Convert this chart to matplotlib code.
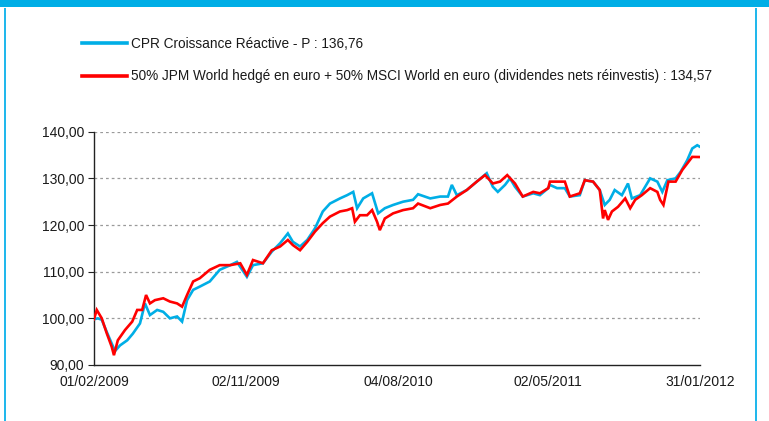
import numpy as np
import matplotlib
matplotlib.use("Agg")
import matplotlib.pyplot as plt
from matplotlib.lines import Line2D
from matplotlib.patches import Rectangle

start_date = np.datetime64("2009-02-01")

fund_label = "CPR Croissance Réactive - P : 136,76"
bench_label = "50% JPM World hedgé en euro + 50% MSCI World en euro (dividendes nets réinvestis) : 134,57"

fund_days = [0, 7, 14, 23, 32, 38, 47, 60, 70, 83, 92, 101, 114, 125, 137, 150, 159, 168, 179, 191,
             209, 227, 246, 258, 276, 287, 305, 321, 336, 350, 359, 372, 385, 399, 413, 426, 444, 457,
             468, 475, 486, 502, 513, 525, 540, 558, 576, 585, 607, 625, 639, 646, 655, 673, 691, 709,
             720, 729, 742, 751, 760, 774, 793, 805, 820, 823, 836, 850, 859, 877, 886, 901, 913, 922,
             931, 940, 953, 964, 971, 986, 1004, 1017, 1026, 1035, 1050, 1059, 1071, 1080, 1089, 1094]
fund_vals = [99.8, 100.0, 99.7, 97.1, 94.6, 93.0, 94.2, 95.3, 96.7, 98.9, 103.2, 100.7, 101.8, 101.4,
             100.0, 100.4, 99.3, 103.9, 106.1, 106.8,
             107.9, 110.4, 111.4, 112.1, 108.9, 111.4, 111.8, 114.3, 116.1, 118.2, 116.4, 115.4, 116.8,
             119.3, 122.9, 124.6, 125.7, 126.4, 127.1, 123.6, 125.7, 126.8, 122.5, 123.6, 124.3, 125.0,
             125.4, 126.6, 125.7, 126.1, 126.1, 128.6, 126.4, 127.5, 129.3, 131.1, 128.2, 127.1, 128.6,
             130.0, 128.2, 126.1, 126.8, 126.4, 127.9, 128.6, 127.9, 127.9, 126.1, 126.4, 129.6, 129.3,
             127.5, 124.3, 125.4, 127.5, 126.4, 128.9, 125.7, 126.4, 130.0, 129.3, 127.1, 129.6, 130.0,
             131.4, 133.9, 136.4, 137.1, 136.76]

bench_days = [0, 5, 14, 23, 32, 36, 43, 56, 69, 78, 87, 94, 101, 110, 125, 137, 150, 159, 168, 179, 191,
              209, 227, 246, 264, 276, 287, 305, 321, 336, 350, 359, 372, 385, 399, 413, 426, 444, 457,
              466, 471, 480, 493, 502, 511, 516, 525, 540, 558, 576, 585, 607, 625, 639, 655, 673, 691,
              706, 720, 733, 746, 760, 774, 793, 805, 820, 823, 836, 850, 859, 877, 886, 901, 913, 919,
              922, 928, 935, 946, 959, 968, 977, 989, 1004, 1017, 1022, 1028, 1037, 1050, 1062, 1071,
              1080, 1094]
bench_vals = [99.8, 101.8, 100.0, 96.8, 93.9, 92.1, 95.3, 97.5, 99.3, 101.8, 101.8, 105.0, 103.2, 103.9,
              104.3, 103.6, 103.2, 102.5, 105.0, 107.9, 108.6,
              110.4, 111.4, 111.4, 111.8, 109.3, 112.5, 111.8, 114.6, 115.4, 116.8, 115.7, 114.6, 116.4,
              118.6, 120.4, 121.8, 122.9, 123.2, 123.6, 120.7, 122.1, 122.1, 123.2, 120.7, 118.9, 121.4,
              122.5, 123.2, 123.6, 124.6, 123.6, 124.3, 124.6, 126.1, 127.5, 129.3, 130.7, 128.9, 129.3,
              130.7, 128.9, 126.1, 127.1, 126.8, 127.9, 129.3, 129.3, 129.3, 126.1, 126.8, 129.6, 129.3,
              127.5, 121.4, 123.2, 121.1, 122.9, 123.9, 125.7, 123.6, 125.4, 126.4, 127.9, 127.1, 125.4,
              124.3, 129.3, 129.3, 131.8, 133.2, 134.6, 134.57]

xtick_dates = ["2009-02-01", "2009-11-02", "2010-08-04", "2011-05-02", "2012-01-31"]
xtick_labels = ["01/02/2009", "02/11/2009", "04/08/2010", "02/05/2011", "31/01/2012"]
ytick_vals = [90, 100, 110, 120, 130, 140]
ytick_labels = ["90,00", "100,00", "110,00", "120,00", "130,00", "140,00"]

CYAN = "#00AEE6"
RED = "#FF0000"
TXT = "#1a1a1a"

plt.rcParams["font.family"] = ["Liberation Sans", "DejaVu Sans"]

W, H = 769, 421
fig = plt.figure(figsize=(W / 100, H / 100), dpi=100)
fig.patch.set_facecolor("white")

# frame decorations
fig.patches.append(Rectangle((0, 1 - 7 / H), 1, 7 / H, transform=fig.transFigure,
                             facecolor=CYAN, edgecolor="none", zorder=0))
fig.patches.append(Rectangle((4 / W, 0), 1.6 / W, 1 - 8 / H, transform=fig.transFigure,
                             facecolor="#22B8EC", edgecolor="none", zorder=0))
fig.patches.append(Rectangle((755 / W, 0), 1.6 / W, 1 - 8 / H, transform=fig.transFigure,
                             facecolor="#22B8EC", edgecolor="none", zorder=0))

ax = fig.add_axes([94 / W, 1 - 365 / H, (700 - 94) / W, (365 - 131.7) / H])

fd = start_date + np.array(fund_days).astype("timedelta64[D]")
bd = start_date + np.array(bench_days).astype("timedelta64[D]")
l1, = ax.plot(fd, fund_vals, color=CYAN, lw=1.9, solid_joinstyle="miter", zorder=3)
l2, = ax.plot(bd, bench_vals, color=RED, lw=1.9, solid_joinstyle="miter", zorder=4)

ax.set_xlim(np.datetime64("2009-02-01"), np.datetime64("2012-01-31"))
ax.set_ylim(90, 140)
ax.set_yticks(ytick_vals)
ax.set_yticklabels(ytick_labels)
ax.set_xticks([np.datetime64(d) for d in xtick_dates])
ax.set_xticklabels(xtick_labels)

for v in ytick_vals[1:]:
    ax.axhline(v, color="#9a9a9a", lw=0.9, linestyle=(0, (2.2, 2.4)), zorder=1)

for s in ["top", "right"]:
    ax.spines[s].set_visible(False)
ax.spines["left"].set_color("#222222")
ax.spines["bottom"].set_color("#222222")
ax.spines["left"].set_linewidth(1.0)
ax.spines["bottom"].set_linewidth(1.0)

ax.tick_params(axis="y", length=4, width=0.8, color="#222222", pad=3, labelsize=10, labelcolor=TXT)
ax.tick_params(axis="x", length=0, pad=7, labelsize=10, labelcolor=TXT)

h1 = Line2D([], [], color=CYAN, lw=2.6)
h2 = Line2D([], [], color=RED, lw=2.6)
leg = fig.legend([h1, h2], [fund_label, bench_label], loc="upper left",
                 bbox_to_anchor=(82 / W, 1 - 37 / H), frameon=False, fontsize=9.8,
                 handlelength=3.3, handletextpad=0.3, labelspacing=1.35, borderpad=0,
                 borderaxespad=0)
for t in leg.get_texts():
    t.set_color(TXT)

fig.savefig("out.png", dpi=100)
